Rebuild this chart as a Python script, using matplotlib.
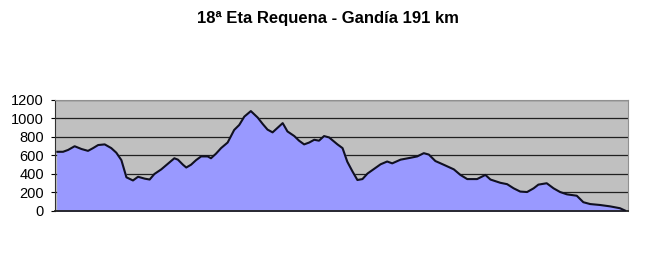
import matplotlib.pyplot as plt

km = [0.3, 2.2, 3.9, 6.1, 8.4, 10.6, 12.3, 14.0, 16.2, 18.4, 20.1, 21.8, 23.5, 25.7,
      27.4, 29.6, 31.3, 32.9, 35.2, 37.4, 39.6, 40.8, 42.5, 43.6, 45.2, 46.9, 48.6,
      50.8, 51.9, 53.6, 55.3, 57.5, 59.7, 61.4, 63.1, 65.3, 67.6, 69.3, 70.9, 72.6,
      74.3, 76.0, 77.6, 79.9, 81.5, 83.2, 84.9, 86.6, 88.2, 89.9, 91.6, 94.4, 96.1,
      97.7, 99.4, 101.1, 102.8, 104.5, 106.7, 108.9, 111.1, 112.8, 115.6, 118.9,
      121.2, 123.4, 125.1, 127.3, 130.1, 133.5, 135.7, 138.0, 141.3, 144.1, 145.8,
      149.1, 151.4, 153.6, 155.8, 158.1, 160.3, 161.9, 164.7, 167.0, 169.2, 171.5,
      174.8, 177.0, 179.3, 182.6, 186.0, 189.3, 191.0]
alt = [640, 640, 660, 700, 670, 650, 680, 713, 720, 680, 630, 550, 364, 330,
       370, 350, 340, 400, 450, 510, 570, 555, 500, 470, 500, 550, 590,
       590, 570, 620, 680, 740, 876, 930, 1020, 1080, 1010, 940, 880, 850,
       900, 950, 860, 810, 760, 720, 740, 770, 760, 810, 795, 720, 680,
       533, 430, 335, 345, 405, 455, 505, 535, 515, 555, 575,
       590, 625, 610, 540, 500, 450, 390, 345, 345, 390, 340,
       305, 290, 245, 210, 205, 245, 285, 300, 245, 205, 180,
       165, 95, 75, 65, 50, 30, 5]
yticks = [0, 200, 400, 600, 800, 1000, 1200]

fig = plt.figure(figsize=(6.5, 2.61), dpi=100)
ax = fig.add_axes([0.0846, 0.1916, 0.8815, 0.4253])
ax.set_facecolor('#c0c0c0')
ax.fill_between(km, alt, 0, color='#9999ff', zorder=2)
ax.plot(km, alt, color='#101020', lw=1.5, zorder=3)
ax.set_xlim(-0.5, 192)
ax.set_ylim(0, 1200)
ax.set_yticks(yticks)
ax.set_xticks([])
ax.grid(axis='y', color='#202020', lw=0.9, zorder=1)
ax.set_axisbelow(True)
for s in ['top', 'right']:
    ax.spines[s].set_color('#909090')
ax.spines['left'].set_color('#303030')
ax.spines['bottom'].set_color('#202020')
ax.spines['bottom'].set_linewidth(1.3)
ax.tick_params(axis='y', labelsize=10.5, length=3, pad=5)
for t in ax.get_yticklabels():
    t.set_family('Liberation Sans')

fig.text(0.505, 0.93, '18ª Eta Requena - Gandía 191 km', ha='center', va='center',
         fontsize=12, fontweight='bold', family='Liberation Sans')

fig.savefig('out.png', dpi=100)
